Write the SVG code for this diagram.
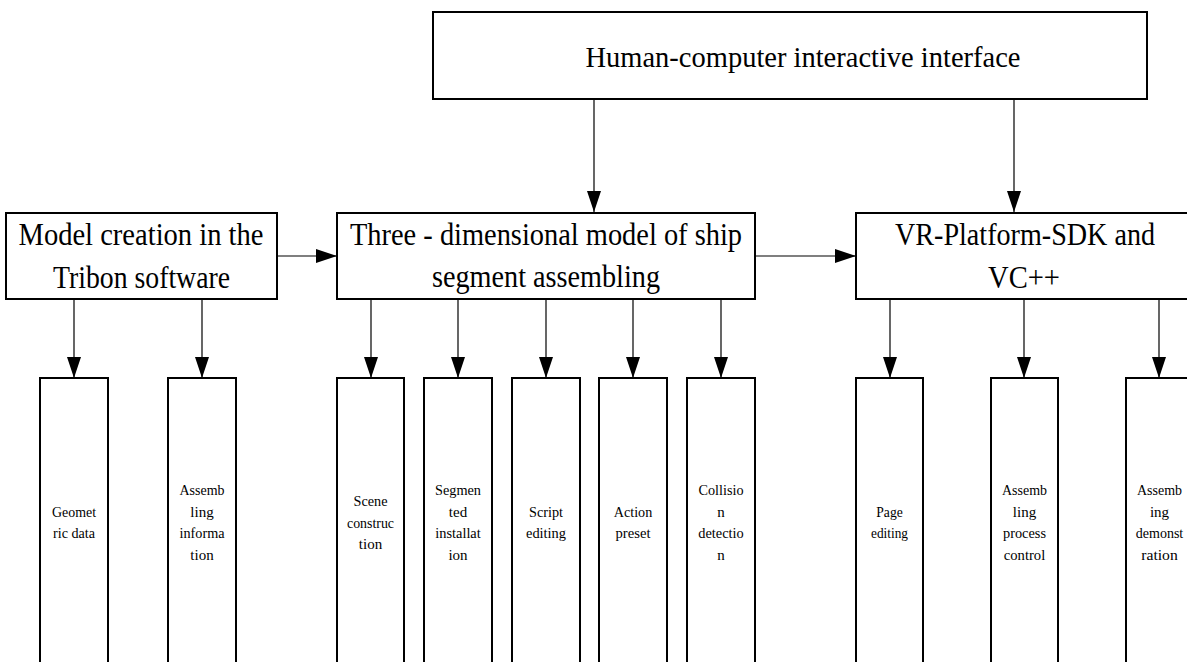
<svg xmlns="http://www.w3.org/2000/svg" width="1187" height="662" viewBox="0 0 1187 662">
<style>
.box{fill:#fff;stroke:#000;stroke-width:2}
.big{font-family:"Liberation Serif","Times New Roman",serif;font-size:32px;fill:#000;text-anchor:middle}
.top{font-family:"Liberation Serif","Times New Roman",serif;font-size:30px;fill:#000;text-anchor:middle}
.sm{font-family:"Liberation Serif","Times New Roman",serif;font-size:15px;fill:#000;text-anchor:middle}
.con{stroke:#000;stroke-width:1.2;fill:none;marker-end:url(#ah)}
</style>
<defs>
<marker id="ah" markerUnits="userSpaceOnUse" markerWidth="22" markerHeight="14" refX="21" refY="7" orient="auto">
<path d="M0,0 L21,7 L0,14 Z" fill="#000"/>
</marker>
</defs>
<rect width="1187" height="662" fill="#fff"/>
<g id="connectors">
<line class="con" x1="594" y1="99" x2="594" y2="212"/>
<line class="con" x1="1014" y1="99" x2="1014" y2="212"/>
<line class="con" x1="277" y1="256" x2="337" y2="256"/>
<line class="con" x1="755" y1="256" x2="856" y2="256"/>
<line class="con" x1="74" y1="299" x2="74" y2="378"/>
<line class="con" x1="202" y1="299" x2="202" y2="378"/>
<line class="con" x1="371" y1="299" x2="371" y2="378"/>
<line class="con" x1="458" y1="299" x2="458" y2="378"/>
<line class="con" x1="546" y1="299" x2="546" y2="378"/>
<line class="con" x1="633" y1="299" x2="633" y2="378"/>
<line class="con" x1="721" y1="299" x2="721" y2="378"/>
<line class="con" x1="890" y1="299" x2="890" y2="378"/>
<line class="con" x1="1024" y1="299" x2="1024" y2="378"/>
<line class="con" x1="1159" y1="299" x2="1159" y2="378"/>
</g>
<g id="hci">
<rect class="box" x="433" y="12" width="714" height="87"/>
<text class="top" x="803" y="67" textLength="435" lengthAdjust="spacingAndGlyphs">Human-computer interactive interface</text>
</g>
<g id="tribon">
<rect class="box" x="6" y="213" width="271" height="86"/>
<text class="big" x="141" y="245" textLength="245" lengthAdjust="spacingAndGlyphs">Model creation in the</text>
<text class="big" x="141.5" y="288" textLength="177" lengthAdjust="spacingAndGlyphs">Tribon software</text>
</g>
<g id="model3d">
<rect class="box" x="337" y="213" width="418" height="86"/>
<text class="big" x="546" y="245" textLength="392" lengthAdjust="spacingAndGlyphs">Three - dimensional model of ship</text>
<text class="big" x="546" y="287" textLength="228" lengthAdjust="spacingAndGlyphs">segment assembling</text>
</g>
<g id="vrsdk">
<rect class="box" x="856" y="213" width="337" height="86"/>
<text class="big" x="1025" y="245" textLength="260" lengthAdjust="spacingAndGlyphs">VR-Platform-SDK and</text>
<text class="big" x="1024" y="288" textLength="72" lengthAdjust="spacingAndGlyphs">VC++</text>
</g>
<g id="geometric">
<rect class="box" x="40" y="378" width="68" height="300"/>
<text class="sm" x="74" y="516.7" textLength="44" lengthAdjust="spacingAndGlyphs">Geomet</text>
<text class="sm" x="74" y="538.2" textLength="42" lengthAdjust="spacingAndGlyphs">ric data</text>
</g>
<g id="assembinfo">
<rect class="box" x="168" y="378" width="68" height="300"/>
<text class="sm" x="202" y="495.2" textLength="45" lengthAdjust="spacingAndGlyphs">Assemb</text>
<text class="sm" x="202" y="516.7">ling</text>
<text class="sm" x="202" y="538.2" textLength="45" lengthAdjust="spacingAndGlyphs">informa</text>
<text class="sm" x="202" y="559.7">tion</text>
</g>
<g id="scene">
<rect class="box" x="337" y="378" width="67" height="300"/>
<text class="sm" x="370.5" y="506" textLength="34" lengthAdjust="spacingAndGlyphs">Scene</text>
<text class="sm" x="370.5" y="527.5" textLength="47" lengthAdjust="spacingAndGlyphs">construc</text>
<text class="sm" x="370.5" y="549">tion</text>
</g>
<g id="segmented">
<rect class="box" x="424" y="378" width="68" height="300"/>
<text class="sm" x="458" y="495.2" textLength="46" lengthAdjust="spacingAndGlyphs">Segmen</text>
<text class="sm" x="458" y="516.7">ted</text>
<text class="sm" x="458" y="538.2" textLength="45.5" lengthAdjust="spacingAndGlyphs">installat</text>
<text class="sm" x="458" y="559.7">ion</text>
</g>
<g id="script">
<rect class="box" x="512" y="378" width="68" height="300"/>
<text class="sm" x="546" y="516.7" textLength="34" lengthAdjust="spacingAndGlyphs">Script</text>
<text class="sm" x="546" y="538.2" textLength="40" lengthAdjust="spacingAndGlyphs">editing</text>
</g>
<g id="action">
<rect class="box" x="599" y="378" width="68" height="300"/>
<text class="sm" x="633" y="516.7" textLength="38.5" lengthAdjust="spacingAndGlyphs">Action</text>
<text class="sm" x="633" y="538.2" textLength="35" lengthAdjust="spacingAndGlyphs">preset</text>
</g>
<g id="collision">
<rect class="box" x="687" y="378" width="68" height="300"/>
<text class="sm" x="721" y="495.2" textLength="45" lengthAdjust="spacingAndGlyphs">Collisio</text>
<text class="sm" x="721" y="516.7">n</text>
<text class="sm" x="721" y="538.2" textLength="45.5" lengthAdjust="spacingAndGlyphs">detectio</text>
<text class="sm" x="721" y="559.7">n</text>
</g>
<g id="page">
<rect class="box" x="856" y="378" width="67" height="300"/>
<text class="sm" x="889.5" y="516.7" textLength="26.5" lengthAdjust="spacingAndGlyphs">Page</text>
<text class="sm" x="889.5" y="538.2" textLength="37" lengthAdjust="spacingAndGlyphs">editing</text>
</g>
<g id="processctrl">
<rect class="box" x="991" y="378" width="67" height="300"/>
<text class="sm" x="1024.5" y="495.2" textLength="45" lengthAdjust="spacingAndGlyphs">Assemb</text>
<text class="sm" x="1024.5" y="516.7">ling</text>
<text class="sm" x="1024.5" y="538.2" textLength="43" lengthAdjust="spacingAndGlyphs">process</text>
<text class="sm" x="1024.5" y="559.7" textLength="41.5" lengthAdjust="spacingAndGlyphs">control</text>
</g>
<g id="demonstration">
<rect class="box" x="1126" y="378" width="67" height="300"/>
<text class="sm" x="1159.5" y="495.2" textLength="45" lengthAdjust="spacingAndGlyphs">Assemb</text>
<text class="sm" x="1159.5" y="516.7">ing</text>
<text class="sm" x="1159.5" y="538.2" textLength="47.5" lengthAdjust="spacingAndGlyphs">demonst</text>
<text class="sm" x="1159.5" y="559.7" textLength="36.5" lengthAdjust="spacingAndGlyphs">ration</text>
</g>
</svg>
